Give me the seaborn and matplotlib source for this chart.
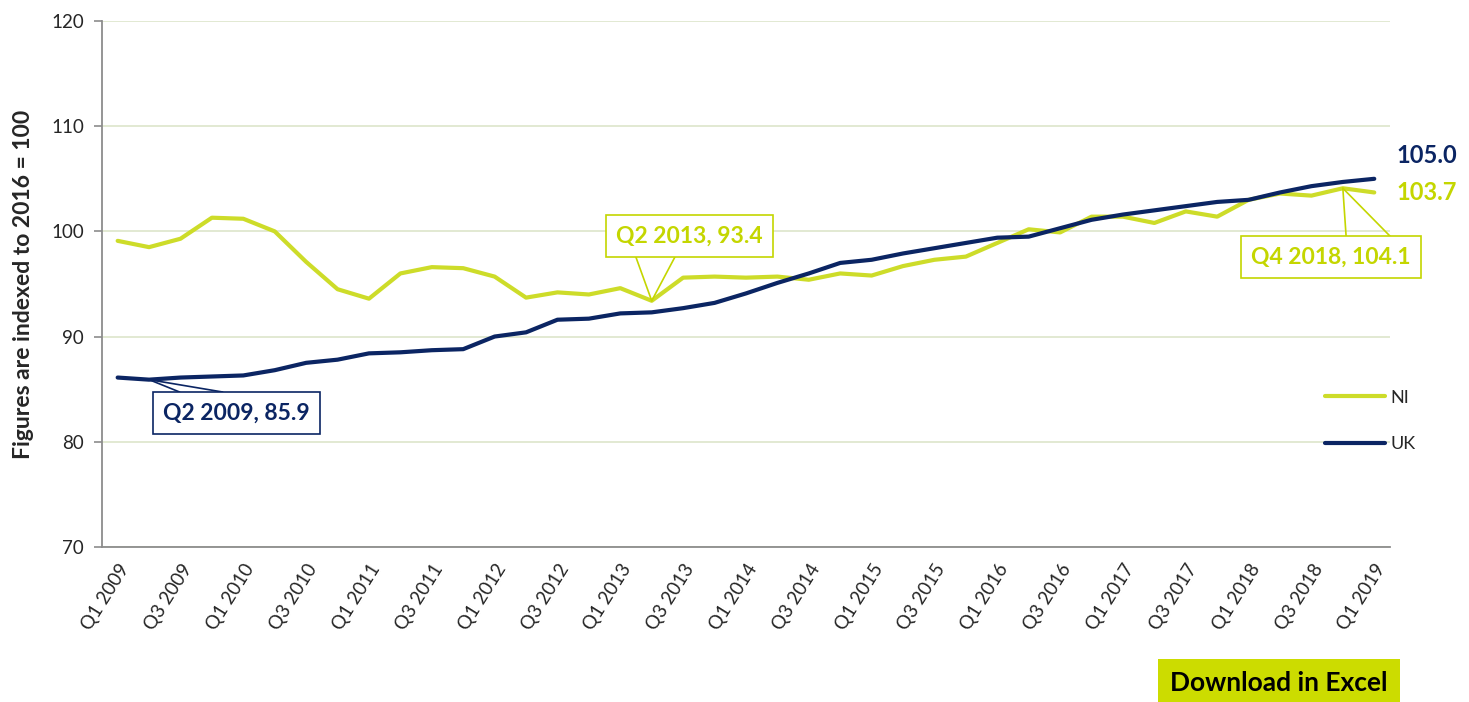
import matplotlib
matplotlib.use("Agg")
import matplotlib.pyplot as plt
import seaborn as sns
import pandas as pd

# quarterly index values (2016 = 100), Q1 2009 .. Q1 2019
quarters = [f"Q{q} {y}" for y in range(2009, 2020) for q in range(1, 5)][:41]
ni_values = [99.1, 98.5, 99.3, 101.3, 101.2, 100.0, 97.1, 94.5, 93.6, 96.0,
             96.6, 96.5, 95.7, 93.7, 94.2, 94.0, 94.6, 93.4, 95.6, 95.7,
             95.6, 95.7, 95.4, 96.0, 95.8, 96.7, 97.3, 97.6, 98.9, 100.2,
             99.9, 101.4, 101.4, 100.8, 101.9, 101.4, 103.0, 103.6, 103.4, 104.1,
             103.7]
uk_values = [86.1, 85.9, 86.1, 86.2, 86.3, 86.8, 87.5, 87.8, 88.4, 88.5,
             88.7, 88.8, 90.0, 90.4, 91.6, 91.7, 92.2, 92.3, 92.7, 93.2,
             94.1, 95.1, 96.0, 97.0, 97.3, 97.9, 98.4, 98.9, 99.4, 99.5,
             100.3, 101.1, 101.6, 102.0, 102.4, 102.8, 103.0, 103.7, 104.3, 104.7,
             105.0]
series = ["NI", "UK"]

ni_line = "#CDDC29"
ni_text = "#C4D600"
uk_color = "#0B2563"
grid_col = "#DFE7CF"
axis_col = "#8C8C8C"

n = len(quarters)
df = pd.DataFrame({
    "pos": list(range(n)) * 2,
    "value": ni_values + uk_values,
    "series": ["NI"] * n + ["UK"] * n,
})

sns.set_style("white")
plt.rcParams["font.family"] = ["Lato", "DejaVu Sans"]

fig = plt.figure(figsize=(14.69, 7.02), dpi=100)
ax = fig.add_axes([0.0694, 0.221, 0.8768, 0.749])

sns.lineplot(data=df, x="pos", y="value", hue="series", hue_order=series,
             palette={"NI": ni_line, "UK": uk_color}, linewidth=3, ax=ax)

ax.set_xlim(-0.5, n - 0.5)
ax.set_ylim(70, 120)
ax.set_yticks(range(70, 121, 10))
ax.yaxis.grid(True, color=grid_col, linewidth=1.3)
ax.set_axisbelow(True)
for s in ["top", "right"]:
    ax.spines[s].set_visible(False)
for s in ["left", "bottom"]:
    ax.spines[s].set_color(axis_col)
    ax.spines[s].set_linewidth(1.3)

# tick marks between categories, labels on every second quarter
ax.set_xticks([i - 0.5 for i in range(n + 1)])
ax.set_xticklabels([])
ax.tick_params(axis="x", which="major", length=6, width=1.2, color=axis_col, direction="out")
ax.set_xticks(range(0, n, 2), minor=True)
ax.set_xticklabels(quarters[::2], minor=True, rotation=58, ha="right",
                   rotation_mode="anchor", fontsize=13.5)
ax.tick_params(axis="x", which="minor", length=0, pad=10)
ax.tick_params(axis="y", length=6, width=1.2, color=axis_col, direction="out",
               labelsize=13.5, pad=7, left=True)
ax.set_xlabel("")
ax.set_ylabel("Figures are indexed to 2016 = 100", fontsize=16.5, fontweight="bold", labelpad=12)

# callouts
def callout(i, vals, text, color, box_off, p1, p2):
    for p in (p1, p2):
        ax.annotate("", xy=(i, vals[i]), xytext=p, textcoords="offset points",
                    arrowprops=dict(arrowstyle="-", color=color, lw=1.2,
                                    shrinkA=0, shrinkB=0), zorder=4)
    ax.annotate(text, xy=(i, vals[i]), xytext=box_off, textcoords="offset points",
                ha="center", va="center", fontsize=16.5, fontweight="bold", color=color,
                bbox=dict(boxstyle="square,pad=0.45", facecolor="white",
                          edgecolor=color, linewidth=1.2), zorder=5)

callout(1, uk_values, f"{quarters[1]}, {uk_values[1]:.1f}", uk_color,
        (63, -23.8), (22, -8.9), (53, -8.9))
callout(17, ni_values, f"{quarters[17]}, {ni_values[17]:.1f}", ni_text,
        (27.1, 46.6), (-11.4, 31.5), (16.7, 31.5))
callout(39, ni_values, f"{quarters[39]}, {ni_values[39]:.1f}", ni_text,
        (-8.7, -49.7), (2.4, -35.3), (34.8, -35.3))

# end-of-line values
ax.annotate(f"{uk_values[-1]:.1f}", xy=(n - 1, uk_values[-1]), xytext=(15.8, 17),
            textcoords="offset points", ha="left", va="center", fontsize=17,
            fontweight="bold", color=uk_color, annotation_clip=False)
ax.annotate(f"{ni_values[-1]:.1f}", xy=(n - 1, ni_values[-1]), xytext=(15.8, 0),
            textcoords="offset points", ha="left", va="center", fontsize=17,
            fontweight="bold", color=ni_text, annotation_clip=False)

ax.legend(loc="center left", bbox_to_anchor=(1325 / 1469, 1 - 421 / 702),
          bbox_transform=fig.transFigure, frameon=False, fontsize=13,
          handlelength=3.3, handletextpad=0.3, labelspacing=1.7,
          borderpad=0, borderaxespad=0)

fig.text(1279 / 1469, 1 - 683 / 702, "Download in Excel", ha="center", va="center",
         fontsize=19, fontweight="bold", color="black",
         bbox=dict(boxstyle="square,pad=0.45", facecolor="#CCDC00", edgecolor="none"))

fig.savefig("out.png", dpi=100)
